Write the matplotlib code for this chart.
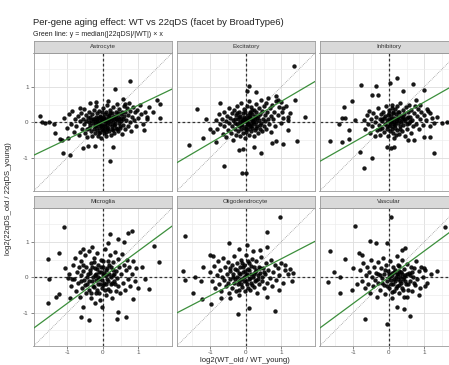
import numpy as np
import matplotlib
matplotlib.use("Agg")
import matplotlib.pyplot as plt

plt.rcParams['font.family'] = ['Liberation Sans', 'DejaVu Sans']

# facet names and the median ratio used as slope of the green line
cell_types = ['Astrocyte', 'Excitatory', 'Inhibitory', 'Microglia', 'Oligodendrocyte', 'Vascular']
median_slope = [0.48, 0.59, 0.57, 0.74, 0.52, 0.74]
tick_vals = [-1, 0, 1]
tick_labels = ['-1', '0', '1']

# per-gene points (x = log2 WT old/young, y = log2 22qDS old/young)
astro_pts = [
    (-1.08, 0.12), (-1.02, -0.15), (-0.95, 0.22), (-0.9, -0.05), (-0.86, 0.31), (-0.82, -0.28), (-0.78, 0.08),
    (-0.74, -0.12), (-0.7, 0.18), (-0.66, -0.35), (-0.63, 0.02), (-0.6, 0.27), (-0.58, -0.18), (-0.56, 0.1),
    (-0.54, 0.38), (-0.52, -0.05), (-0.5, -0.3), (-0.48, 0.2), (-0.46, 0.02), (-0.44, -0.42), (-0.42, 0.12),
    (-0.4, -0.15), (-0.38, 0.3), (-0.36, -0.08), (-0.34, 0.05), (-0.33, -0.25), (-0.31, 0.22), (-0.3, -0.4),
    (-0.28, 0.1), (-0.27, -0.02), (-0.25, -0.18), (-0.24, 0.35), (-0.22, 0.0), (-0.21, -0.3), (-0.2, 0.15),
    (-0.19, -0.1), (-0.18, 0.45), (-0.17, 0.05), (-0.16, -0.22), (-0.15, 0.25), (-0.14, -0.05), (-0.13, -0.38),
    (-0.12, 0.12), (-0.11, -0.15), (-0.1, 0.32), (-0.09, 0.0), (-0.08, -0.28), (-0.07, 0.18), (-0.06, -0.08),
    (-0.05, 0.08), (-0.04, -0.45), (-0.03, 0.28), (-0.02, -0.18), (-0.01, 0.02), (0.0, 0.4), (0.01, -0.1),
    (0.02, 0.15), (0.03, -0.3), (0.04, 0.05), (0.05, -0.02), (0.06, 0.22), (0.07, -0.2), (0.08, 0.1),
    (0.09, -0.4), (0.1, 0.3), (0.11, -0.08), (0.12, 0.02), (0.13, 0.48), (0.14, -0.15), (0.15, 0.18),
    (0.17, -0.25), (0.19, 0.08), (0.2, -0.05), (0.21, 0.35), (0.22, -0.35), (0.24, 0.12), (0.25, -0.12),
    (0.26, 0.25), (0.28, 0.0), (0.29, -0.22), (0.3, 0.42), (0.31, 0.08), (0.33, -0.3), (0.34, 0.18),
    (0.35, -0.05), (0.37, 0.3), (0.38, -0.15), (0.4, 0.05), (0.41, 0.52), (0.42, -0.25), (0.44, 0.15),
    (0.45, -0.02), (0.47, 0.38), (0.48, -0.12), (0.5, 0.22), (0.51, 0.02), (0.53, -0.32), (0.54, 0.3),
    (0.56, 0.1), (0.57, -0.08), (0.59, 0.45), (0.6, 0.18), (0.62, -0.2), (0.64, 0.28), (0.66, 0.05),
    (0.68, 0.4), (0.7, -0.1), (0.72, 0.2), (0.74, 0.55), (0.76, 0.0), (0.78, 0.32), (0.8, -0.25),
    (0.83, 0.15), (0.86, 0.42), (0.88, 0.05), (0.91, 0.28), (0.94, -0.12), (0.97, 0.35), (1.0, 0.12),
    (1.04, 0.48), (1.08, 0.22), (1.12, -0.05), (1.18, 0.3), (1.25, 0.15),
    (-0.26, 0.08), (-0.23, -0.1), (-0.15, 0.1), (-0.12, -0.02), (-0.08, 0.14), (-0.05, -0.12), (-0.02, 0.06),
    (0.0, -0.22), (0.03, 0.12), (0.06, -0.1), (0.09, 0.04), (0.12, -0.2), (0.15, 0.0), (0.18, 0.2),
    (0.22, 0.05), (0.25, -0.18), (0.28, 0.15), (0.32, -0.08), (0.36, 0.1), (0.39, -0.2), (0.43, 0.26),
    (0.46, 0.08), (0.49, -0.15), (0.52, 0.12), (-0.35, 0.15), (-0.4, 0.0), (-0.45, -0.2), (-0.1, -0.3),
    (0.1, -0.28), (0.2, 0.25),
    (0.77, 1.16), (0.34, 0.93), (1.54, 0.63), (1.6, 0.52), (1.61, 0.11), (1.24, 0.08), (1.17, -0.22),
    (-1.77, 0.18), (-1.72, 0.0), (-1.62, -0.02), (-1.5, 0.01), (-1.36, -0.04), (-1.34, -0.31), (-1.15, -0.5),
    (-1.2, -0.48), (-0.97, -0.45), (-1.11, -0.86), (-0.92, -0.92), (-0.55, -0.72), (-0.41, -0.67),
    (-0.22, -0.67), (0.2, -1.09), (0.3, -0.69), (-0.64, 0.4), (-0.36, 0.54), (-0.19, 0.56), (0.16, 0.6),
    (0.58, 0.65), (0.62, 0.51), (1.3, 0.42), (1.42, 0.3),
]

excit_pts = [
    (-0.85, 0.05), (-0.8, -0.2), (-0.76, 0.22), (-0.72, -0.05), (-0.68, 0.1), (-0.65, -0.32), (-0.62, 0.3),
    (-0.6, -0.12), (-0.57, 0.02), (-0.55, -0.42), (-0.52, 0.18), (-0.5, -0.22), (-0.48, 0.4), (-0.46, -0.02),
    (-0.44, 0.12), (-0.42, -0.3), (-0.4, 0.25), (-0.38, -0.1), (-0.36, 0.05), (-0.35, -0.5), (-0.33, 0.35),
    (-0.31, -0.18), (-0.3, 0.1), (-0.28, -0.35), (-0.27, 0.2), (-0.25, -0.05), (-0.24, 0.45), (-0.22, -0.25),
    (-0.21, 0.08), (-0.2, -0.12), (-0.18, 0.3), (-0.17, -0.4), (-0.16, 0.0), (-0.15, 0.18), (-0.13, -0.2),
    (-0.12, 0.55), (-0.11, 0.1), (-0.1, -0.08), (-0.09, 0.25), (-0.08, -0.3), (-0.07, 0.04), (-0.06, 0.38),
    (-0.05, -0.15), (-0.04, 0.15), (-0.03, -0.45), (-0.02, 0.02), (-0.01, 0.28), (0.0, -0.1), (0.01, 0.12),
    (0.02, -0.28), (0.03, 0.45), (0.04, 0.0), (0.05, -0.18), (0.06, 0.2), (0.07, -0.05), (0.08, 0.6),
    (0.09, 0.08), (0.1, -0.35), (0.11, 0.3), (0.12, -0.12), (0.13, 0.15), (0.14, -0.02), (0.15, 0.42),
    (0.16, -0.25), (0.17, 0.05), (0.18, 0.22), (0.19, -0.15), (0.2, 0.1), (0.22, -0.4), (0.23, 0.35),
    (0.24, -0.05), (0.25, 0.18), (0.27, -0.22), (0.28, 0.52), (0.29, 0.0), (0.3, 0.28), (0.32, -0.1),
    (0.33, 0.12), (0.35, -0.3), (0.36, 0.4), (0.37, 0.05), (0.39, -0.18), (0.4, 0.22), (0.42, 0.62),
    (0.43, -0.02), (0.45, 0.32), (0.46, -0.25), (0.48, 0.1), (0.5, 0.45), (0.51, -0.1), (0.53, 0.2),
    (0.55, 0.02), (0.57, 0.55), (0.58, -0.2), (0.6, 0.3), (0.62, 0.1), (0.64, 0.68), (0.66, -0.05),
    (0.68, 0.4), (0.7, 0.18), (0.72, -0.28), (0.75, 0.5), (0.78, 0.08), (0.8, 0.3), (0.83, -0.12),
    (0.86, 0.6), (0.9, 0.2), (0.94, 0.42), (0.98, -0.02), (1.02, 0.3), (1.06, 0.12), (1.12, 0.45),
    (1.18, 0.05), (1.25, 0.25),
    (-0.2, 0.15), (-0.14, -0.08), (-0.1, 0.02), (-0.05, 0.1), (0.0, 0.05), (0.05, -0.05), (0.1, 0.15),
    (0.15, -0.1), (0.2, 0.0), (0.25, 0.08), (0.3, -0.15), (0.35, 0.18), (-0.3, -0.02), (0.12, 0.25),
    (0.02, -0.2), (-0.25, 0.25), (0.4, -0.08), (0.18, 0.35),
    (1.36, 1.58), (0.1, 1.01), (0.03, 0.87), (0.29, 0.84), (0.85, 0.75), (0.92, 0.63), (0.99, 0.58),
    (1.4, 0.62), (-0.72, 0.54), (-1.38, 0.38), (1.06, 0.4), (1.66, 0.14), (1.2, 0.16), (-1.12, 0.08),
    (-1.02, -0.18), (-0.91, -0.27), (-1.19, -0.45), (-1.6, -0.65), (-0.85, -0.57), (-0.62, -1.24),
    (-0.18, -0.78), (-0.08, -0.77), (0.23, -0.69), (0.42, -0.88), (-0.11, -1.43), (0.01, -1.44),
    (0.75, -0.6), (0.84, -0.53), (1.06, -0.61), (1.44, -0.52), (1.2, -0.22),
]

inhib_pts = [
    (-0.7, 0.05), (-0.66, -0.18), (-0.62, 0.2), (-0.58, -0.05), (-0.55, 0.32), (-0.52, -0.3), (-0.49, 0.1),
    (-0.46, -0.12), (-0.43, 0.25), (-0.4, -0.4), (-0.38, 0.0), (-0.35, 0.15), (-0.33, -0.22), (-0.3, 0.4),
    (-0.28, -0.08), (-0.26, 0.08), (-0.24, -0.35), (-0.22, 0.22), (-0.2, -0.15), (-0.18, 0.02), (-0.16, 0.3),
    (-0.14, -0.28), (-0.12, 0.12), (-0.1, -0.05), (-0.08, 0.45), (-0.06, -0.18), (-0.05, 0.05), (-0.03, 0.2),
    (-0.02, -0.38), (0.0, 0.1), (0.01, -0.1), (0.02, 0.35), (0.04, -0.25), (0.05, 0.0), (0.06, 0.18),
    (0.08, -0.12), (0.09, 0.5), (0.1, 0.06), (0.11, -0.3), (0.12, 0.25), (0.14, -0.05), (0.15, 0.12),
    (0.16, -0.45), (0.17, 0.38), (0.18, -0.15), (0.2, 0.02), (0.21, 0.22), (0.22, -0.22), (0.24, 0.45),
    (0.25, -0.02), (0.26, 0.15), (0.28, -0.32), (0.29, 0.3), (0.3, 0.05), (0.32, -0.12), (0.33, 0.55),
    (0.35, 0.18), (0.36, -0.25), (0.38, 0.08), (0.4, 0.35), (0.41, -0.08), (0.43, 0.22), (0.45, -0.38),
    (0.46, 0.02), (0.48, 0.42), (0.5, 0.12), (0.52, -0.18), (0.54, 0.28), (0.56, -0.02), (0.58, 0.5),
    (0.6, 0.15), (0.62, -0.3), (0.64, 0.35), (0.66, 0.05), (0.68, -0.12), (0.7, 0.25), (0.73, 0.45),
    (0.76, -0.05), (0.79, 0.18), (0.82, 0.38), (0.85, -0.2), (0.88, 0.1), (0.92, 0.3), (0.96, -0.08),
    (1.0, 0.2), (1.05, 0.05), (1.1, 0.32), (1.15, -0.12), (1.22, 0.12), (1.28, -0.02),
    (-0.1, 0.18), (-0.04, -0.12), (0.0, 0.25), (0.03, -0.02), (0.07, 0.1), (0.1, -0.18), (0.13, 0.3),
    (0.16, 0.0), (0.19, -0.08), (0.22, 0.1), (0.27, 0.28), (0.31, -0.2), (0.34, 0.0), (0.39, 0.15),
    (0.44, 0.1), (0.5, -0.05), (0.55, 0.15), (-0.2, 0.1), (-0.25, -0.2), (0.08, 0.4), (0.2, -0.35),
    (0.6, 0.02),
    (0.24, 1.24), (0.03, 1.1), (-0.35, 1.03), (-0.78, 1.06), (0.69, 1.09), (0.99, 0.92), (-0.31, 0.77),
    (-0.47, 0.77), (0.39, 0.87), (-1.03, 0.61), (0.76, 0.63), (0.89, 0.5), (-1.25, 0.42), (-1.31, 0.11),
    (-1.22, 0.12), (-1.41, -0.05), (-0.94, 0.07), (-1.13, -0.22), (-1.66, -0.52), (-1.31, -0.55),
    (-1.13, -0.48), (-0.8, -0.83), (-0.47, -1.02), (-0.7, -1.3), (-0.05, -0.69), (0.05, -0.72),
    (0.15, -0.7), (1.27, -0.88), (1.64, 0.01), (1.5, -0.02), (1.36, 0.14), (1.17, 0.25), (1.08, 0.36),
    (0.99, -0.41), (1.17, -0.41), (0.7, -0.5), (0.55, -0.5),
]

micro_pts = [
    (-0.95, 0.1), (-0.9, -0.25), (-0.85, 0.35), (-0.82, -0.05), (-0.78, 0.55), (-0.75, -0.4), (-0.72, 0.15),
    (-0.7, -0.15), (-0.67, 0.28), (-0.65, -0.55), (-0.62, 0.05), (-0.6, 0.45), (-0.58, -0.3), (-0.55, 0.18),
    (-0.53, -0.08), (-0.5, 0.62), (-0.48, -0.45), (-0.46, 0.3), (-0.44, -0.2), (-0.42, 0.08), (-0.4, 0.75),
    (-0.38, -0.35), (-0.36, 0.2), (-0.34, -0.6), (-0.32, 0.4), (-0.3, -0.12), (-0.28, 0.02), (-0.26, 0.55),
    (-0.24, -0.28), (-0.22, 0.25), (-0.2, -0.45), (-0.18, 0.1), (-0.16, 0.68), (-0.14, -0.18), (-0.12, 0.35),
    (-0.1, -0.05), (-0.08, -0.65), (-0.06, 0.15), (-0.04, 0.5), (-0.02, -0.3), (0.0, 0.05), (0.02, 0.3),
    (0.04, -0.15), (0.06, 0.8), (0.08, -0.5), (0.1, 0.2), (0.12, -0.05), (0.14, 0.45), (0.16, -0.32),
    (0.18, 0.1), (0.2, 0.62), (0.22, -0.2), (0.24, 0.28), (0.26, -0.6), (0.28, 0.05), (0.3, 0.42),
    (0.32, -0.1), (0.34, 0.7), (0.36, -0.38), (0.38, 0.18), (0.4, -0.02), (0.42, 0.52), (0.44, -0.25),
    (0.46, 0.3), (0.48, -0.45), (0.5, 0.1), (0.53, 0.65), (0.56, -0.15), (0.59, 0.35), (0.62, -0.35),
    (0.65, 0.2), (0.68, 0.5), (0.71, -0.05), (0.74, 0.3), (0.78, -0.25), (0.82, 0.1), (0.86, 0.45),
    (0.9, -0.1), (0.95, 0.25), (1.0, -0.3),
    (-0.45, 0.0), (-0.4, -0.1), (-0.35, 0.12), (-0.3, 0.3), (-0.27, -0.25), (-0.23, 0.05), (-0.2, -0.08),
    (-0.17, 0.22), (-0.15, -0.35), (-0.12, 0.0), (-0.1, 0.15), (-0.07, -0.2), (-0.05, 0.28), (-0.03, -0.08),
    (0.0, -0.22), (0.03, 0.12), (0.05, -0.35), (0.08, 0.05), (0.1, -0.18), (0.13, 0.25), (0.15, -0.1),
    (0.19, 0.35), (0.22, 0.0), (0.25, -0.15), (0.28, 0.2), (0.32, 0.1), (-0.5, -0.22), (-0.55, 0.35),
    (-0.25, 0.42), (0.0, 0.45), (-0.1, -0.45), (0.2, -0.4), (0.35, -0.2), (-0.6, -0.1), (-0.33, -0.45),
    (-1.09, 1.42), (-1.22, 0.68), (-1.53, 0.51), (-1.5, -0.04), (-1.53, -0.73), (-1.33, -0.55),
    (-1.22, -0.48), (-0.92, -0.58), (-0.61, -1.12), (-0.39, -1.21), (-0.56, -0.83), (-0.03, -0.83),
    (0.21, 1.22), (0.16, 0.98), (0.72, 1.26), (0.82, 1.3), (0.44, 1.07), (0.6, 1.0), (1.45, 0.87),
    (1.59, 0.42), (1.29, -0.32), (0.86, -0.62), (0.65, -1.13), (0.44, -0.98), (0.39, -1.18),
    (-0.22, -0.72), (-0.86, -0.04), (-0.98, -0.02), (-0.3, 0.85), (-0.55, 0.8), (-0.65, 0.72),
    (1.1, 0.3), (1.2, -0.05), (-1.05, 0.25),
]

oligo_pts = [
    (-1.0, 0.15), (-0.95, -0.1), (-0.9, 0.32), (-0.86, -0.3), (-0.82, 0.05), (-0.78, 0.45), (-0.75, -0.18),
    (-0.72, 0.2), (-0.69, -0.4), (-0.66, 0.02), (-0.63, 0.55), (-0.6, -0.08), (-0.58, 0.28), (-0.55, -0.25),
    (-0.52, 0.1), (-0.5, 0.42), (-0.48, -0.45), (-0.45, 0.18), (-0.43, -0.05), (-0.4, 0.35), (-0.38, -0.3),
    (-0.36, 0.08), (-0.34, 0.6), (-0.32, -0.15), (-0.3, 0.22), (-0.28, -0.38), (-0.26, 0.02), (-0.24, 0.4),
    (-0.22, -0.2), (-0.2, 0.12), (-0.18, -0.5), (-0.16, 0.3), (-0.14, -0.05), (-0.12, 0.5), (-0.1, -0.28),
    (-0.08, 0.15), (-0.06, -0.12), (-0.04, 0.35), (-0.02, -0.4), (0.0, 0.05), (0.02, 0.62), (0.04, -0.2),
    (0.06, 0.22), (0.08, -0.05), (0.1, 0.4), (0.12, -0.35), (0.14, 0.1), (0.16, -0.15), (0.18, 0.52),
    (0.2, 0.0), (0.22, 0.28), (0.24, -0.28), (0.26, 0.15), (0.28, -0.08), (0.3, 0.45), (0.32, -0.45),
    (0.34, 0.05), (0.36, 0.3), (0.38, -0.18), (0.4, 0.12), (0.43, 0.58), (0.46, -0.1), (0.49, 0.25),
    (0.52, -0.3), (0.55, 0.08), (0.58, 0.4), (0.61, -0.15), (0.64, 0.2), (0.67, -0.02), (0.7, 0.5),
    (0.74, -0.25), (0.78, 0.15), (0.82, 0.35), (0.86, -0.08), (0.9, 0.25), (0.95, 0.05), (1.0, 0.4),
    (1.05, -0.15), (1.1, 0.2), (1.18, 0.08),
    (-0.35, 0.0), (-0.3, -0.05), (-0.25, 0.2), (-0.2, -0.1), (-0.15, 0.08), (-0.12, -0.18), (-0.08, 0.28),
    (-0.05, 0.0), (-0.02, 0.18), (0.0, -0.12), (0.03, 0.08), (0.06, -0.3), (0.09, 0.2), (0.12, -0.02),
    (0.15, 0.32), (0.18, -0.22), (0.22, 0.08), (0.25, -0.12), (0.3, 0.2), (0.35, -0.05), (0.4, 0.25),
    (-0.45, 0.25), (-0.5, -0.15), (0.45, 0.0), (-0.1, 0.4), (0.05, 0.45), (-0.2, -0.35), (0.5, 0.15),
    (0.97, 1.69), (0.61, 1.29), (-1.71, 1.16), (-0.47, 0.96), (0.03, 0.91), (-1.01, 0.63), (-0.92, 0.6),
    (-1.77, 0.17), (-1.43, 0.01), (-1.71, -0.08), (-1.49, -0.44), (-1.22, -0.62), (-0.99, -0.76),
    (-0.44, -0.58), (-0.21, -1.04), (0.09, -0.86), (0.83, -0.95), (1.34, 0.12), (1.25, 0.22), (1.1, 0.35),
    (0.59, 0.85), (0.4, 0.78), (-0.2, 0.8), (0.2, 0.75), (-1.2, 0.3), (-1.25, -0.1), (0.95, -0.35),
    (1.3, -0.1), (0.6, -0.55), (-0.7, -0.6),
]

vasc_pts = [
    (-0.8, 0.2), (-0.76, -0.1), (-0.72, 0.4), (-0.68, -0.3), (-0.65, 0.05), (-0.62, 0.28), (-0.58, -0.18),
    (-0.55, 0.15), (-0.52, -0.45), (-0.5, 0.5), (-0.47, 0.0), (-0.44, -0.25), (-0.42, 0.3), (-0.39, -0.08),
    (-0.36, 0.12), (-0.34, -0.55), (-0.31, 0.42), (-0.29, -0.15), (-0.26, 0.05), (-0.24, -0.35), (-0.21, 0.25),
    (-0.19, -0.02), (-0.16, 0.55), (-0.14, -0.22), (-0.12, 0.1), (-0.1, -0.48), (-0.07, 0.35), (-0.05, -0.1),
    (-0.03, 0.18), (0.0, -0.3), (0.02, 0.02), (0.04, 0.45), (0.06, -0.18), (0.08, 0.12), (0.1, -0.6),
    (0.12, 0.28), (0.14, -0.05), (0.16, -0.38), (0.18, 0.2), (0.2, 0.0), (0.22, 0.6), (0.24, -0.25),
    (0.26, 0.08), (0.28, -0.45), (0.3, 0.32), (0.32, -0.12), (0.34, 0.15), (0.36, -0.3), (0.38, 0.48),
    (0.4, -0.05), (0.42, 0.22), (0.44, -0.55), (0.46, 0.05), (0.48, -0.2), (0.5, 0.38), (0.53, -0.35),
    (0.56, 0.12), (0.59, -0.1), (0.62, 0.3), (0.65, -0.4), (0.68, 0.02), (0.71, 0.25), (0.74, -0.22),
    (0.77, 0.45), (0.8, -0.05), (0.84, 0.18), (0.88, -0.3), (0.92, 0.3), (0.96, 0.0), (1.02, 0.2),
    (1.08, -0.15),
    (0.0, 0.1), (0.05, -0.08), (0.1, 0.05), (0.12, -0.2), (0.15, 0.15), (0.18, -0.12), (0.2, -0.3),
    (0.22, 0.1), (0.25, -0.05), (0.28, 0.18), (0.3, -0.22), (0.33, 0.02), (0.35, -0.15), (0.38, 0.1),
    (0.4, -0.35), (0.43, 0.0), (0.45, -0.1), (0.5, 0.08), (0.55, -0.2), (0.6, 0.05), (-0.05, -0.25),
    (-0.1, 0.2), (-0.2, -0.15), (0.08, -0.42), (0.25, 0.35), (0.65, 0.15), (0.7, -0.15), (-0.3, 0.08),
    (0.05, 1.7), (-0.94, 1.44), (1.58, 1.41), (-0.05, 0.96), (-0.54, 1.03), (-0.37, 0.96), (-1.66, 0.73),
    (-0.85, 0.68), (-0.75, 0.63), (0.38, 0.77), (0.45, 0.82), (-1.22, 0.52), (-1.55, 0.15), (-1.36, 0.01),
    (-1.72, -0.14), (-1.03, -0.36), (-1.36, -0.46), (-0.66, -1.18), (-0.06, -1.32), (0.61, -1.09),
    (0.24, -0.85), (0.42, -0.9), (0.52, -0.55), (1.36, 0.17), (1.03, -0.25), (0.99, 0.26), (1.2, 0.1),
    (-1.0, 0.25), (-0.9, -0.2), (0.85, -0.5),
]

all_pts = [astro_pts, excit_pts, inhib_pts, micro_pts, oligo_pts, vasc_pts]

W, H = 449, 365
fig = plt.figure(figsize=(W / 100, H / 100), dpi=100)

col_left = [33.5, 176.5, 319.5]
panel_w = 138.5
row_top = [52.5, 207.5]
panel_h = 138.0
strip_h = 12.0
lim_x = (-1.95, 1.95)
lim_y = (-1.93, 1.97)
border = '#9A9A9A'

for i, name in enumerate(cell_types):
    r, c = divmod(i, 3)
    l = col_left[c]
    t = row_top[r]
    ax = fig.add_axes([l / W, 1 - (t + panel_h) / H, panel_w / W, panel_h / H])
    ax.set_xlim(lim_x)
    ax.set_ylim(lim_y)
    ax.set_xticks(tick_vals)
    ax.set_yticks(tick_vals)
    ax.set_xticks([-1.5, -0.5, 0.5, 1.5], minor=True)
    ax.set_yticks([-1.5, -0.5, 0.5, 1.5], minor=True)
    ax.grid(which='major', color='#DDDDDD', lw=0.6)
    ax.grid(which='minor', color='#EBEBEB', lw=0.45)
    ax.set_axisbelow(True)
    ax.tick_params(which='minor', length=0)
    ax.tick_params(which='major', length=2, width=0.5, color='#555555',
                   labelsize=4.5, labelcolor='#555555', pad=1.5)
    if c == 0:
        ax.set_yticklabels(tick_labels)
    else:
        ax.tick_params(axis='y', length=0, labelleft=False)
    if r == 1:
        ax.set_xticklabels(tick_labels)
    else:
        ax.tick_params(axis='x', length=0, labelbottom=False)
    for sp in ax.spines.values():
        sp.set_color(border)
        sp.set_linewidth(0.6)

    ax.axhline(0, color='#333333', lw=0.9, ls=(0, (2.2, 1.8)), zorder=1)
    ax.axvline(0, color='#333333', lw=0.9, ls=(0, (2.2, 1.8)), zorder=1)
    ax.axline((0, 0), slope=1, color='#8A8A8A', lw=0.55, ls=(0, (1, 1.4)), zorder=1)

    pts = np.array(all_pts[i])
    ax.scatter(pts[:, 0], pts[:, 1], s=10, c='black', alpha=0.9, lw=0, zorder=2)
    ax.axline((0, 0), slope=median_slope[i], color='#3C8F3C', lw=0.9, zorder=3)

    sax = fig.add_axes([l / W, 1 - t / H, panel_w / W, strip_h / H])
    sax.set_facecolor('#D9D9D9')
    sax.set_xticks([])
    sax.set_yticks([])
    for sp in sax.spines.values():
        sp.set_color(border)
        sp.set_linewidth(0.6)
    sax.text(0.5, 0.5, name, ha='center', va='center', fontsize=4.5,
             color='#333333', transform=sax.transAxes)

fig.text(33 / W, 1 - 25 / H, 'Per-gene aging effect: WT vs 22qDS (facet by BroadType6)',
         fontsize=6.8, color='#222222', va='baseline')
fig.text(33 / W, 1 - 35.5 / H, 'Green line: y = median(|22qDS|/|WT|) \u00d7 x',
         fontsize=5, color='#222222', va='baseline')
fig.text(245 / W, 1 - 360 / H, 'log2(WT_old / WT_young)', ha='center', va='center',
         fontsize=5.5, color='#222222')
fig.text(9 / W, 1 - 199 / H, 'log2(22qDS_old / 22qDS_young)', ha='center', va='center',
         rotation=90, fontsize=5.5, color='#222222')

fig.savefig('out.png', dpi=100)
